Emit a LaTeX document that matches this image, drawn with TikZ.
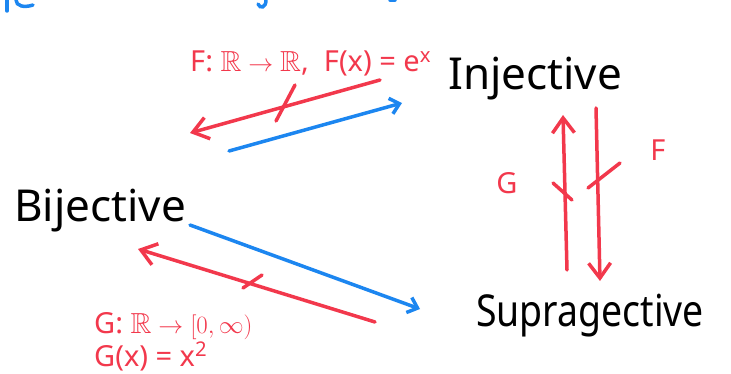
\documentclass[tikz,border=0pt]{standalone}
\usepackage{amssymb}
\usepackage{fontspec}
\setsansfont{Noto Sans}
\usetikzlibrary{arrows.meta, positioning}
\definecolor{colRed}  {HTML}{F2384C}
\definecolor{colBlue} {HTML}{1C86F0}
\tikzset{
  term/.style={
    font=\fontsize{44}{44}\selectfont\sffamily,
    text=black, inner sep=0pt, anchor=base west
  },
  redlabel/.style={
    font=\fontsize{29}{30}\selectfont\sffamily,
    text=colRed, inner sep=0pt
  },
  redarr/.style={
    -{Straight Barb[length=15pt,width=22pt,line width=3.5pt]},
    line width=3.5pt, draw=colRed, line cap=round
  },
  bluearr/.style={
    -{Straight Barb[length=9pt,width=16pt,line width=3.5pt]},
    line width=3.5pt, draw=colBlue, line cap=round
  },
  crossmark/.style={draw=colRed, line width=3.5pt, line cap=round},
  scrap/.style={draw=colBlue, line width=3.5pt, line cap=round}
}
\begin{document}
\begin{tikzpicture}[x=1pt, y=-1pt]
  \useasboundingbox (0,0) rectangle (731,374);
  % the three kinds of map
  \node[term] (inj)  at (448,90)  {Injective};
  \node[term] (bij)  at (14,222)  {Bijective};
  \node[term] (surj) at (476,326) {\scalebox{0.85}[1]{Supragective}};
  % labels of the examples
  \node[redlabel, anchor=base west] (flab)  at (190,72)  {F: $\mathbb{R}\to\mathbb{R}$,\ \ F(x) = e\textsuperscript{x}};
  \node[redlabel, anchor=base west] (glab)  at (94,333)  {G: $\mathbb{R}\to[0,\infty)$};
  \node[redlabel, anchor=base west] (gdef)  at (94,366)  {G(x) = x\textsuperscript{2}};
  \node[redlabel] (gname) at (507,183) {G};
  \node[redlabel] (fname) at (658,150) {F};
  % ends of the strokes
  \coordinate (ibR)  at (380,80);   \coordinate (ibL)  at (190,133);
  \coordinate (biL)  at (229,151);  \coordinate (biR)  at (402,103);
  \coordinate (bsL)  at (190,225);  \coordinate (bsR)  at (420,309);
  \coordinate (sbR)  at (375,322);  \coordinate (sbL)  at (138,249);
  \coordinate (gBot) at (567,270);  \coordinate (gTop) at (563,115);
  \coordinate (fTop) at (596,108);  \coordinate (fBot) at (600,281);
  % Injective <-> Bijective
  \draw[redarr]  (ibR) -- (ibL);
  \draw[crossmark] (295,85) -- (276,121);
  \draw[bluearr] (biL) -- (biR);
  % Bijective <-> Supragective
  \draw[bluearr] (bsL) -- (bsR);
  \draw[redarr]  (sbR) -- (sbL);
  \draw[crossmark] (243,288) -- (262,275);
  % Supragective <-> Injective
  \draw[redarr]  (gBot) -- (gTop);
  \draw[crossmark] (553,183) -- (572,200);
  \draw[redarr]  (fTop) -- (fBot);
  \draw[crossmark] (588,188) -- (620,163);
  % cut-off writing at the top edge
  \draw[scrap] (7,0) -- (7,11);
  \draw[scrap] (16,0) .. controls (16,6) and (24,8) .. (33,5);
  \draw[scrap] (266,0) .. controls (266,8) and (260,9) .. (258,4);
  \draw[scrap] (390,0) -- (395,0);
\end{tikzpicture}
\end{document}
